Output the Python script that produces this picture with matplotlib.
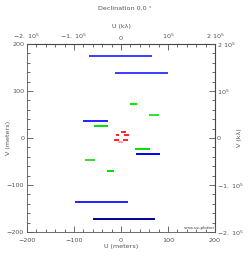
import numpy as np
import matplotlib
matplotlib.use('Agg')
import matplotlib.pyplot as plt
from matplotlib.ticker import MultipleLocator, FixedLocator

# uv tracks (meters): v, u start, u end, colour
track_v = [174, 138, 72, 48, 36, 25.5, 12.8, 6.4, 6.4, -3.6, -3.6, -8.5,
           -22.8, -34, -47, -70, -137, -173]
track_u0 = [-68, -13, 19, 60, -81, -57, -1, -11, 6, -15, 4, -7,
            30, 32, -77, -29, -98, -60]
track_u1 = [66, 99, 33, 81, -28, -27, 10, -4, 18, -5, 14, 4,
            62, 83, -55, -15.5, 15, 73]
track_col = ['#3a3aff', '#3a3aff', '#00e000', '#30e030', '#2020ff', '#00e000',
             '#ff2020', '#ff2020', '#ff2020', '#ff2020', '#ff2020', '#ffa0a0',
             '#00e000', '#0000f0', '#30e030', '#00e000', '#2020ff', '#000099']

lam_scale = 1000.0  # meters -> wavelengths
top_ticks = [-2e5, -1e5, 0, 1e5, 2e5]
top_labels = [r'$-2.\ 10^5$', r'$-1.\ 10^5$', '0', r'$10^5$', r'$2\ 10^5$']
right_labels = [r'$-2.\ 10^5$', r'$-1.\ 10^5$', '0', r'$10^5$', r'$2\ 10^5$']

fs = 4.6
tc = '#555555'

fig = plt.figure(figsize=(2.49, 2.56), dpi=100)
ax = fig.add_axes([27/249, 24/256, 188/249, 188/256])

for v, a, b, c in zip(track_v, track_u0, track_u1, track_col):
    ax.plot([a, b], [v, v], color=c, lw=1.4, solid_capstyle='butt')

ax.set_xlim(-200, 200)
ax.set_ylim(-200, 200)
ax.xaxis.set_major_locator(MultipleLocator(100))
ax.xaxis.set_minor_locator(MultipleLocator(20))
ax.yaxis.set_major_locator(MultipleLocator(100))
ax.yaxis.set_minor_locator(MultipleLocator(20))
ax.tick_params(which='both', direction='in', labelsize=fs, colors=tc,
               width=0.6, pad=2)
ax.tick_params(axis='x', pad=4)
ax.tick_params(which='major', length=4)
ax.tick_params(which='minor', length=2)
ax.set_xlabel('U (meters)', fontsize=fs, color=tc, labelpad=1)
ax.set_ylabel('V (meters)', fontsize=fs, color=tc)
ax.yaxis.set_label_coords(-0.085, 0.5)
for s in ax.spines.values():
    s.set_linewidth(0.6)
    s.set_color('#555555')

# top axis in wavelengths
axt = ax.secondary_xaxis('top', functions=(lambda x: x * lam_scale, lambda x: x / lam_scale))
axt.xaxis.set_major_locator(FixedLocator(top_ticks))
axt.xaxis.set_minor_locator(MultipleLocator(2e4))
axt.set_xticklabels(top_labels)
axt.tick_params(which='both', direction='in', labelsize=fs, colors=tc, width=0.6, pad=2)
axt.tick_params(which='major', length=4)
axt.tick_params(which='minor', length=2)
axt.set_xlabel('U (kλ)', fontsize=fs, color=tc, labelpad=3)

axr = ax.secondary_yaxis('right', functions=(lambda x: x * lam_scale, lambda x: x / lam_scale))
axr.yaxis.set_major_locator(FixedLocator(top_ticks))
axr.yaxis.set_minor_locator(MultipleLocator(2e4))
axr.set_yticklabels(right_labels)
axr.tick_params(which='both', direction='in', labelsize=fs, colors=tc, width=0.6, pad=1.5)
axr.tick_params(which='major', length=4)
axr.tick_params(which='minor', length=2)
fig.text(239/249, 1 - 138/256, 'V (kλ)', rotation=90, ha='center', va='center',
         fontsize=fs, color=tc)

fig.text(0.5, 0.965, 'Declination 0.0 °', ha='center', va='center', fontsize=fs, color=tc)
ax.text(0.995, 0.01, 'sma uv-plotter', transform=ax.transAxes, ha='right', va='bottom',
        fontsize=3, color='#333333')

fig.savefig('out.png', dpi=100)
